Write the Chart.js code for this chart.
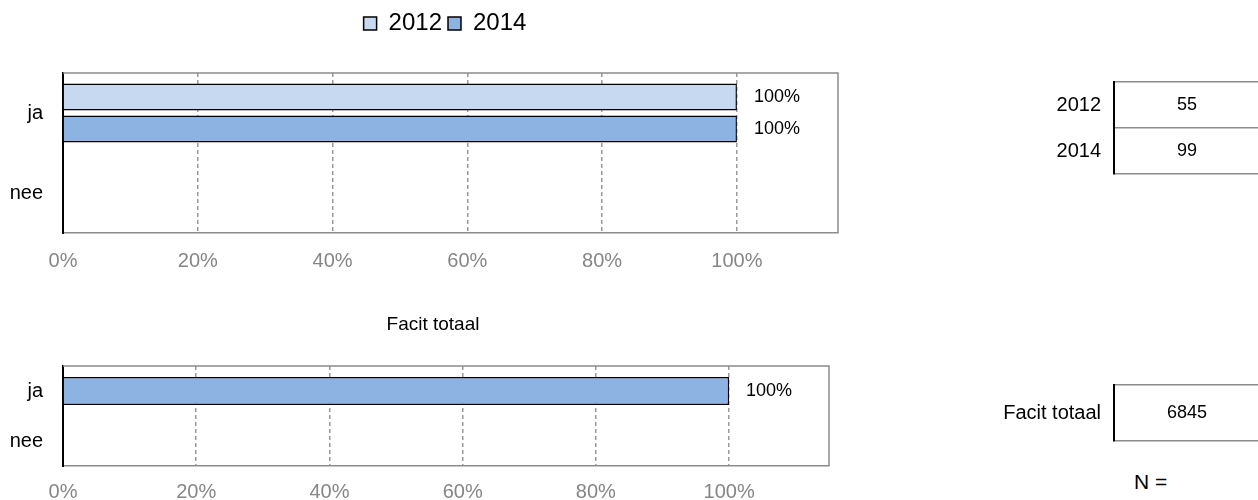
<!DOCTYPE html>
<html>
<head>
<meta charset="utf-8">
<script src="https://cdn.jsdelivr.net/npm/chart.js@4"></script>
<style>
  body { margin: 0; width: 1258px; height: 500px; overflow: hidden; background: #fff; position: relative;
         font-family: "Liberation Sans", Arial, sans-serif; }
  .box { position: absolute; }
  #nLabel { position: absolute; left: 1134px; top: 470px; font-size: 21px; color: #000; }
</style>
</head>
<body>
<div class="box" style="left:0;top:0;width:890px;height:280px"><canvas id="yearChart"></canvas></div>
<div class="box" style="left:0;top:290px;width:866px;height:210px"><canvas id="totalChart"></canvas></div>
<div class="box" style="left:980px;top:60px;width:290px;height:140px"><canvas id="yearN"></canvas></div>
<div class="box" style="left:980px;top:370px;width:290px;height:90px"><canvas id="totalN"></canvas></div>
<div id="nLabel">N =</div>

<script>
// answers and percentages
const answers = ["ja", "nee"];
const years = ["2012", "2014"];
const pct2012 = [100, null];
const pct2014 = [100, null];
const totalLabel = "Facit totaal";
const pctTotal = [100, null];
const xTicks = [0, 20, 40, 60, 80, 100];

// respondents per group
const nYears = [55, 99];
const nTotal = [6845];

const FONT = "'Liberation Sans', Arial, sans-serif";
Chart.defaults.font.family = FONT;
Chart.defaults.color = "#000";

const light = "#C6D9F1";
const mid = "#8DB3E2";

// percentage text to the right of every bar
const barLabels = {
  id: "barLabels",
  afterDatasetsDraw(chart) {
    const ctx = chart.ctx;
    ctx.save();
    ctx.font = "18px " + FONT;
    ctx.fillStyle = "#000";
    ctx.textBaseline = "middle";
    chart.data.datasets.forEach((ds, i) => {
      chart.getDatasetMeta(i).data.forEach((bar, j) => {
        const v = ds.data[j];
        if (v == null) return;
        ctx.fillText(v + "%", bar.x + 17, bar.y);
      });
    });
    ctx.restore();
  }
};

// grey top and right edge of the plot area
const plotFrame = {
  id: "plotFrame",
  afterDraw(chart) {
    const { ctx, chartArea: a } = chart;
    ctx.save();
    ctx.strokeStyle = "#8c8c8c";
    ctx.lineWidth = 1.5;
    ctx.beginPath();
    ctx.moveTo(a.left, a.top);
    ctx.lineTo(a.right, a.top);
    ctx.lineTo(a.right, a.bottom);
    ctx.stroke();
    ctx.restore();
  }
};

// rightGap: empty strip right of the plot, so legend/title centre sits where it should
function pctScales(tickPad, axisHeight, rightGap) {
  return {
    x: {
      min: 0,
      max: 115,
      afterBuildTicks: (s) => { s.ticks = xTicks.map((v) => ({ value: v })); },
      afterFit: (s) => { s.height = axisHeight; },
      ticks: { callback: (v) => v + "%", color: "#868686", font: { size: 20 }, padding: tickPad, maxRotation: 0 },
      grid: {
        drawTicks: false,
        color: (c) => (c.tick && c.tick.value === 0 ? "rgba(0,0,0,0)" : "#9a9a9a"),
        lineWidth: 1.5
      },
      border: { color: "#8c8c8c", width: 1.5, dash: [4, 3] }
    },
    y: {
      afterFit: (s) => { s.width = 63; },
      ticks: { font: { size: 20 }, padding: 20, color: "#000" },
      grid: { display: false, drawTicks: false },
      border: { color: "#000", width: 2 }
    },
    gap: {
      type: "category",
      position: "right",
      afterFit: (s) => { s.width = rightGap; },
      ticks: { display: false },
      grid: { display: false, drawTicks: false },
      border: { display: false }
    }
  };
}

new Chart(document.getElementById("yearChart"), {
  type: "bar",
  data: {
    labels: answers,
    datasets: [
      { label: years[0], data: pct2012, backgroundColor: light, borderColor: "#000", borderWidth: 1.5,
        categoryPercentage: 0.8, barPercentage: 0.84 },
      { label: years[1], data: pct2014, backgroundColor: mid, borderColor: "#000", borderWidth: 1.5,
        categoryPercentage: 0.8, barPercentage: 0.84 }
    ]
  },
  options: {
    indexAxis: "y",
    animation: false,
    responsive: true,
    maintainAspectRatio: false,
    layout: { padding: { top: 5.5, left: 0, right: 0, bottom: 0 } },
    scales: pctScales(16, 47, 52),
    plugins: {
      legend: {
        position: "top",
        labels: { boxWidth: 13, boxHeight: 13, padding: 6, font: { size: 24 }, color: "#000" }
      },
      subtitle: { display: true, text: "", weight: 0, font: { size: 10 }, padding: { top: 0, bottom: 15.5 } },
      tooltip: { enabled: false }
    }
  },
  plugins: [barLabels, plotFrame]
});

new Chart(document.getElementById("totalChart"), {
  type: "bar",
  data: {
    labels: answers,
    datasets: [
      { label: totalLabel, data: pctTotal, backgroundColor: mid, borderColor: "#000", borderWidth: 1.5,
        categoryPercentage: 0.8, barPercentage: 0.7 }
    ]
  },
  options: {
    indexAxis: "y",
    animation: false,
    responsive: true,
    maintainAspectRatio: false,
    layout: { padding: { top: 0, left: 0, right: 0, bottom: 0 } },
    scales: pctScales(14, 34, 37),
    plugins: {
      legend: { display: false },
      title: {
        display: true, text: totalLabel, color: "#000",
        font: { size: 19, weight: "normal" }, padding: { top: 23.6, bottom: 29.6 }
      },
      tooltip: { enabled: false }
    }
  },
  plugins: [barLabels, plotFrame]
});

// N counts written in the middle of each cell
const nCells = {
  id: "nCells",
  afterDraw(chart, args, opts) {
    const { ctx, chartArea: a, scales } = chart;
    ctx.save();
    ctx.font = "18px " + FONT;
    ctx.fillStyle = "#000";
    ctx.textAlign = "center";
    ctx.textBaseline = "middle";
    opts.values.forEach((v, i) => {
      ctx.fillText(String(v), (a.left + a.right) / 2, scales.y.getPixelForValue(i));
    });
    ctx.restore();
  }
};

function nTable(id, labels, values, pad) {
  return new Chart(document.getElementById(id), {
    type: "bar",
    data: { labels: labels, datasets: [] },
    options: {
      indexAxis: "y",
      animation: false,
      responsive: true,
      maintainAspectRatio: false,
      layout: { padding: pad },
      scales: {
        x: { display: false },
        y: {
          offset: true,
          afterFit: (s) => { s.width = 134; s.paddingTop = 0; s.paddingBottom = 0; },
          ticks: { font: { size: 20 }, padding: 13, color: "#000" },
          grid: { offset: true, drawTicks: false, color: "#8c8c8c", lineWidth: 1.5 },
          border: { color: "#000", width: 2 }
        }
      },
      plugins: { legend: { display: false }, tooltip: { enabled: false }, nCells: { values: values } }
    },
    plugins: [nCells]
  });
}

nTable("yearN", years, nYears, { top: 22, bottom: 26, left: 0, right: 10 });
nTable("totalN", [totalLabel], nTotal, { top: 15, bottom: 19, left: 0, right: 10 });
</script>
</body>
</html>
